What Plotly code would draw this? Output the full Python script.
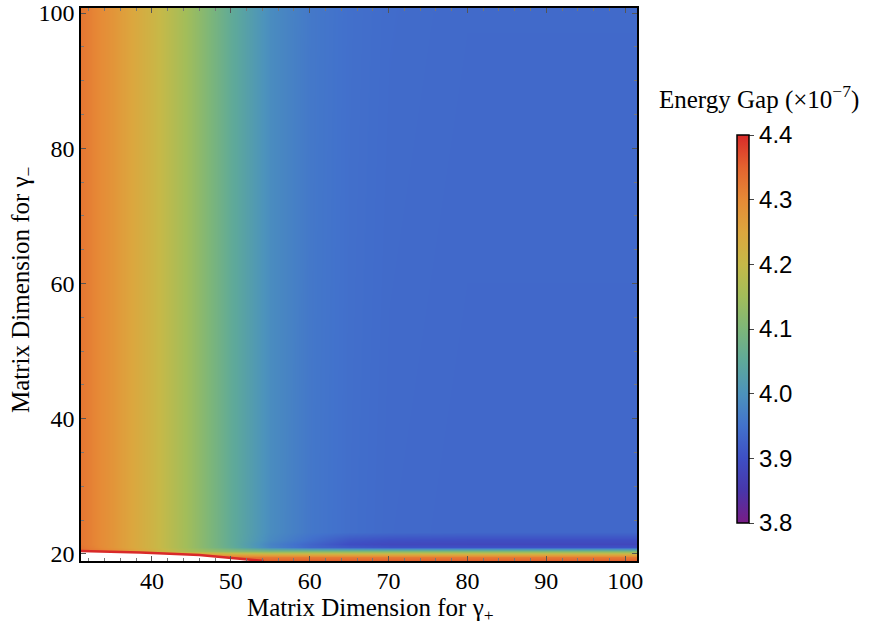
import plotly.graph_objects as go

# Matrix dimension used for gamma_+ (columns) and gamma_- (rows)
dim_plus = [31, 35, 40, 45, 50, 55, 60, 65, 70, 80, 90, 101.5]
dim_minus = [18.96, 19.5, 20.0, 20.5, 21.0, 21.5, 22.0, 23.2, 100.74]

# Energy gap (units of 1e-7), one row per gamma_- dimension
gap_row_1896 = [4.40, 4.40, 4.40, 4.40, 4.38, 4.36, 4.36, 4.36, 4.36, 4.36, 4.36, 4.36]
gap_row_1950 = [4.40, 4.40, 4.40, 4.38, 4.33, 4.32, 4.32, 4.32, 4.32, 4.32, 4.32, 4.32]
gap_row_2000 = [4.40, 4.40, 4.36, 4.27, 4.24, 4.23, 4.23, 4.23, 4.23, 4.23, 4.23, 4.23]
gap_row_2050 = [4.34, 4.30, 4.23, 4.16, 4.12, 4.10, 4.10, 4.10, 4.10, 4.10, 4.10, 4.10]
gap_row_2100 = [4.33, 4.28, 4.215, 4.14, 4.06, 3.98, 3.935, 3.915, 3.905, 3.905, 3.905, 3.905]
gap_row_2150 = [4.325, 4.28, 4.215, 4.14, 4.055, 3.975, 3.932, 3.897, 3.887, 3.885, 3.885, 3.885]
gap_row_2200 = [4.325, 4.28, 4.215, 4.14, 4.055, 3.985, 3.945, 3.91, 3.9, 3.897, 3.897, 3.897]
gap_row_2320 = [4.325, 4.28, 4.215, 4.14, 4.055, 3.99, 3.958, 3.945, 3.938, 3.935, 3.935, 3.935]
gap_row_10074 = [4.325, 4.28, 4.215, 4.14, 4.055, 3.99, 3.96, 3.947, 3.941, 3.938, 3.938, 3.938]

# Lower edge of the computed domain (no data below it)
edge_plus = [31, 38.5, 46, 50, 54.2]
edge_minus = [20.45, 20.23, 19.85, 19.45, 18.96]

x_ticks = [40, 50, 60, 70, 80, 90, 100]
y_ticks = [20, 40, 60, 80, 100]
cbar_ticks = [3.8, 3.9, 4.0, 4.1, 4.2, 4.3, 4.4]

x_range = [31, 101.5]
y_range = [18.96, 100.74]
z_range = [3.8, 4.4]

gap = [gap_row_1896, gap_row_1950, gap_row_2000, gap_row_2050, gap_row_2100,
       gap_row_2150, gap_row_2200, gap_row_2320, gap_row_10074]

rainbow = [
    [0.0, "#781c86"],
    [1 / 12, "#4836aa"],
    [2 / 12, "#3e4fc4"],
    [3 / 12, "#4272cc"],
    [4 / 12, "#4c93bc"],
    [5 / 12, "#5ea99a"],
    [6 / 12, "#7db679"],
    [7 / 12, "#a2bd5a"],
    [8 / 12, "#c6b948"],
    [9 / 12, "#dca63e"],
    [10 / 12, "#e68a36"],
    [11 / 12, "#e3632f"],
    [1.0, "#d92a29"],
]

serif = "Liberation Serif, Times New Roman, serif"
sans = "Liberation Sans, Arial, sans-serif"

fig = go.Figure()

fig.add_trace(go.Heatmap(
    x=dim_plus, y=dim_minus, z=gap,
    zmin=z_range[0], zmax=z_range[1],
    zsmooth="best",
    colorscale=rainbow,
    colorbar=dict(
        x=1.18, xanchor="left", xpad=0,
        y=0.4195, yanchor="middle", ypad=0,
        lenmode="pixels", len=388,
        thickness=12,
        outlinecolor="black", outlinewidth=1.5,
        tickmode="array", tickvals=cbar_ticks,
        ticktext=[f"{v:.1f}" for v in cbar_ticks],
        ticks="outside", ticklen=5, tickcolor="#444",
        tickfont=dict(family=sans, size=24, color="black"),
    ),
    hoverinfo="skip",
))

# blank out the region below the domain edge, outlined in red
fig.add_trace(go.Scatter(
    x=edge_plus + [edge_plus[-1], edge_plus[0]],
    y=edge_minus + [y_range[0], y_range[0]],
    fill="toself", fillcolor="white",
    mode="none", showlegend=False, hoverinfo="skip",
))
fig.add_trace(go.Scatter(
    x=edge_plus, y=edge_minus, mode="lines",
    line=dict(color="#d92a29", width=2.5),
    showlegend=False, hoverinfo="skip",
))

axis_common = dict(
    showgrid=False, zeroline=False,
    showline=True, linecolor="black", linewidth=1.5, mirror="allticks",
    ticks="inside", ticklen=5, tickwidth=1, tickcolor="#555",
    tickfont=dict(family=serif, size=24, color="black"),
)

fig.update_xaxes(
    range=x_range, tickmode="array", tickvals=x_ticks, ticklabelstandoff=-3,
    minor=dict(dtick=2, tick0=0, ticks="inside", ticklen=3, tickcolor="#777"),
    **axis_common,
)
fig.update_yaxes(
    range=y_range, tickmode="array", tickvals=y_ticks,
    minor=dict(dtick=5, tick0=0, ticks="inside", ticklen=3, tickcolor="#777"),
    **axis_common,
)

fig.update_layout(
    width=869, height=628,
    margin=dict(l=81, r=232, t=8, b=67, autoexpand=False),
    paper_bgcolor="white", plot_bgcolor="white",
    showlegend=False,
    annotations=[
        dict(text="Matrix Dimension for γ<sub>+</sub>",
             xref="paper", yref="paper", x=0.52, y=-0.0886,
             xanchor="center", yanchor="middle", showarrow=False,
             font=dict(family=serif, size=25, color="black")),
        dict(text="Matrix Dimension for γ<sub>−</sub>",
             xref="paper", yref="paper", x=-0.106, y=0.49,
             xanchor="center", yanchor="middle", showarrow=False, textangle=-90,
             font=dict(family=serif, size=25, color="black")),
        dict(text="Energy Gap (×10<sup>−7</sup>)",
             xref="paper", yref="paper", x=1.2203, y=0.839,
             xanchor="center", yanchor="middle", showarrow=False,
             font=dict(family=serif, size=25, color="black")),
    ],
)

fig.write_html("out.html")
